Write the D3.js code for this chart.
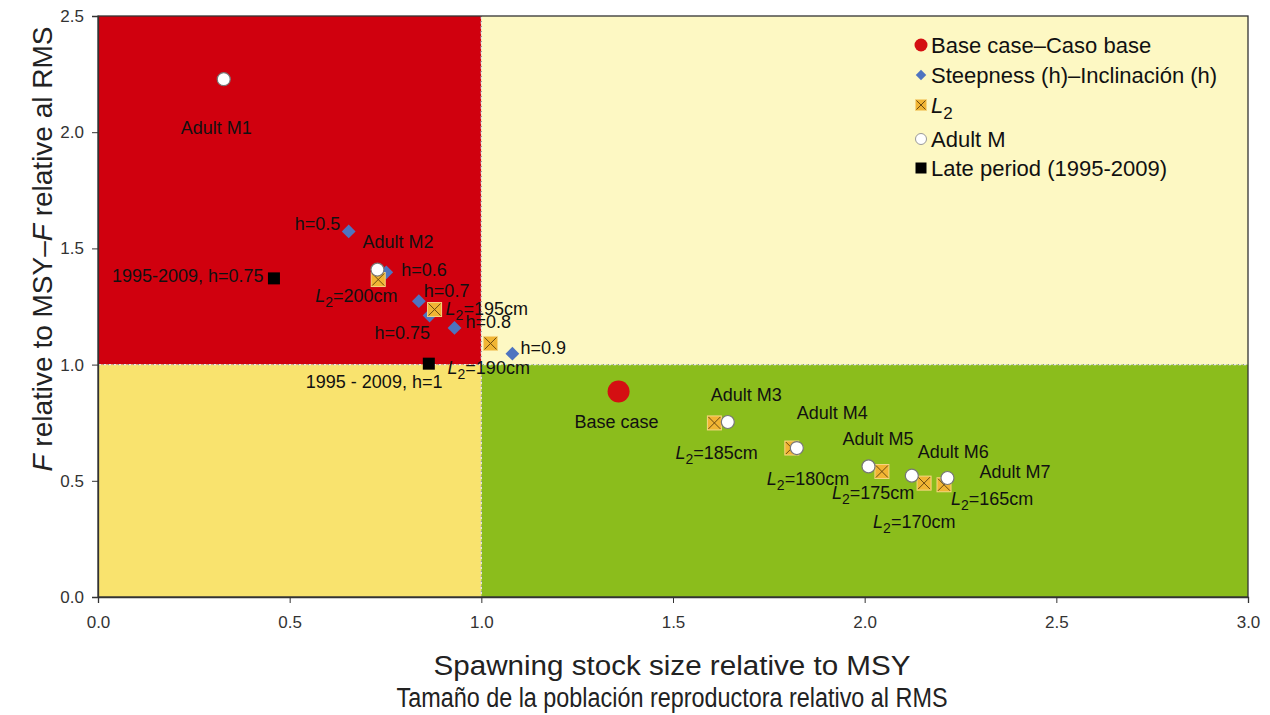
<!DOCTYPE html>
<html>
<head>
<meta charset="utf-8">
<script src="https://cdn.jsdelivr.net/npm/d3@7"></script>
<style>
  html, body { margin: 0; padding: 0; background: #fff; }
  svg { display: block; font-family: "Liberation Sans", Arial, sans-serif; }
</style>
</head>
<body>
<svg id="chart" width="1270" height="715"></svg>
<script>
// ---------------- data ----------------
const xTicks = [0, 0.5, 1.0, 1.5, 2.0, 2.5, 3.0];
const yTicks = [0, 0.5, 1.0, 1.5, 2.0, 2.5];

const baseCase = [{ x: 1.358, y: 0.884, label: "Base case" }];

const steepness = [
  { x: 0.654, y: 1.573, label: "h=0.5" },
  { x: 0.752, y: 1.397, label: "h=0.6" },
  { x: 0.837, y: 1.273, label: "h=0.7" },
  { x: 0.865, y: 1.211, label: "h=0.75" },
  { x: 0.930, y: 1.158, label: "h=0.8" },
  { x: 1.081, y: 1.047, label: "h=0.9" }
];

const l2 = [
  { x: 0.731, y: 1.366, label: "200cm" },
  { x: 0.878, y: 1.237, label: "195cm" },
  { x: 1.024, y: 1.091, label: "190cm" },
  { x: 1.608, y: 0.749, label: "185cm" },
  { x: 1.810, y: 0.641, label: "180cm" },
  { x: 2.045, y: 0.540, label: "175cm" },
  { x: 2.155, y: 0.490, label: "170cm" },
  { x: 2.207, y: 0.483, label: "165cm" }
];

const adultM = [
  { x: 0.328, y: 2.228, label: "Adult M1" },
  { x: 0.729, y: 1.409, label: "Adult M2" },
  { x: 1.643, y: 0.753, label: "Adult M3" },
  { x: 1.823, y: 0.641, label: "Adult M4" },
  { x: 2.010, y: 0.562, label: "Adult M5" },
  { x: 2.123, y: 0.522, label: "Adult M6" },
  { x: 2.216, y: 0.512, label: "Adult M7" }
];

const latePeriod = [
  { x: 0.459, y: 1.371, label: "1995-2009, h=0.75" },
  { x: 0.863, y: 1.004, label: "1995 - 2009, h=1" }
];

const legendLabels = ["Base case\u2013Caso base", "Steepness (h)\u2013Inclinación (h)", "L2", "Adult M", "Late period (1995-2009)"];

// label offsets in pixels (left edge, vertical centre) relative to the point
const steepOff = [[-54, -7], [15, -2], [5, -10], [-55, 17], [11, -6], [8, -6]];
const l2Off = [[-63, 16], [11, -1], [-43, 25], [-39, 30], [-25, 31], [-50, 21], [-51, 39], [7, 14]];
const adultOff = [[-43, 49], [-15, -28], [-17, -27], [0, -35], [-26, -27], [6, -24], [32, -6]];
const lateOff = [[-162, -2], [-123, 18]];
const baseOff = [[-44, 30]];

// ---------------- layout ----------------
const svg = d3.select("#chart");
const m = { left: 98, top: 16, right: 1248, bottom: 597 };
const x = d3.scaleLinear().domain([0, 3]).range([m.left, m.right]);
const y = d3.scaleLinear().domain([0, 2.5]).range([m.bottom, m.top]);

const colors = {
  red: "#d0000e", lightYellow: "#fdf8c3", yellow: "#f9e36e", green: "#8bbd1c",
  diamond: "#4e74c0", l2: "#f1b534", black: "#000"
};

// quadrants
const quads = [
  { x0: 0, x1: 1, y0: 1, y1: 2.5, c: colors.red },
  { x0: 1, x1: 3, y0: 1, y1: 2.5, c: colors.lightYellow },
  { x0: 0, x1: 1, y0: 0, y1: 1, c: colors.yellow },
  { x0: 1, x1: 3, y0: 0, y1: 1, c: colors.green }
];
svg.append("g").selectAll("rect").data(quads).join("rect")
  .attr("x", d => x(d.x0)).attr("y", d => y(d.y1))
  .attr("width", d => x(d.x1) - x(d.x0)).attr("height", d => y(d.y0) - y(d.y1))
  .attr("fill", d => d.c);

// dashed reference lines
[[x(1), x(1), y(2.5), y(0)], [x(0), x(3), y(1), y(1)]].forEach(c => {
  svg.append("line").attr("x1", c[0]).attr("x2", c[1]).attr("y1", c[2]).attr("y2", c[3])
    .attr("stroke", "#e8e8e8").attr("stroke-width", 1.2).attr("stroke-dasharray", "3,2");
  svg.append("line").attr("x1", c[0]).attr("x2", c[1]).attr("y1", c[2]).attr("y2", c[3])
    .attr("stroke", "#888").attr("stroke-width", 1).attr("stroke-dasharray", "1,4");
});

// frame
svg.append("rect").attr("x", m.left).attr("y", m.top)
  .attr("width", m.right - m.left).attr("height", m.bottom - m.top)
  .attr("fill", "none").attr("stroke", "#333").attr("stroke-width", 1.3);

// axes
const xAxis = svg.append("g").attr("transform", `translate(0,${m.bottom})`)
  .call(d3.axisBottom(x).tickValues(xTicks).tickFormat(d3.format(".1f")).tickSize(6).tickPadding(13));
const yAxis = svg.append("g").attr("transform", `translate(${m.left},0)`)
  .call(d3.axisLeft(y).tickValues(yTicks).tickFormat(d3.format(".1f")).tickSize(6).tickPadding(8));
[xAxis, yAxis].forEach(a => {
  a.select(".domain").attr("stroke", "#333").attr("stroke-width", 1.3);
  a.selectAll(".tick line").attr("stroke", "#333");
  a.selectAll(".tick text").attr("fill", "#333").style("font-size", "17px")
    .style("font-family", "'Liberation Sans', Arial, sans-serif");
});

// ---------------- markers ----------------
const g = svg.append("g");
g.selectAll(".dia").data(steepness).join("path").attr("class", "dia")
  .attr("d", d3.symbol(d3.symbolSquare, 95)())
  .attr("transform", d => `translate(${x(d.x)},${y(d.y)}) rotate(45)`)
  .attr("fill", colors.diamond);

function l2Marker(sel, s) {
  sel.append("rect").attr("x", -s).attr("y", -s).attr("width", 2 * s).attr("height", 2 * s)
    .attr("fill", colors.l2).attr("stroke", "#f6d680").attr("stroke-width", 1);
  sel.append("path").attr("d", `M${-s + 1},${-s + 1}L${s - 1},${s - 1}M${s - 1},${-s + 1}L${-s + 1},${s - 1}`)
    .attr("stroke", "#6b4a10").attr("stroke-width", 1);
}
g.selectAll(".l2").data(l2).join("g").attr("class", "l2")
  .attr("transform", d => `translate(${x(d.x)},${y(d.y)})`)
  .each(function () { l2Marker(d3.select(this), 7); });

g.selectAll(".adm").data(adultM).join("circle").attr("class", "adm")
  .attr("cx", d => x(d.x)).attr("cy", d => y(d.y)).attr("r", 6.5)
  .attr("fill", "#fff").attr("stroke", "#777").attr("stroke-width", 1.2);

g.selectAll(".late").data(latePeriod).join("rect").attr("class", "late")
  .attr("x", d => x(d.x) - 6).attr("y", d => y(d.y) - 6).attr("width", 12).attr("height", 12)
  .attr("fill", colors.black);

g.selectAll(".base").data(baseCase).join("circle").attr("class", "base")
  .attr("cx", d => x(d.x)).attr("cy", d => y(d.y)).attr("r", 11)
  .attr("fill", "#d40f12");

// ---------------- labels ----------------
const lab = svg.append("g").style("font-size", "18px").attr("fill", "#111");
function plainLabels(data, off) {
  data.forEach((d, i) => {
    lab.append("text").attr("x", x(d.x) + off[i][0]).attr("y", y(d.y) + off[i][1] + 6)
      .text(d.label);
  });
}
plainLabels(steepness, steepOff);
plainLabels(adultM, adultOff);
plainLabels(latePeriod, lateOff);
plainLabels(baseCase, baseOff);
l2.forEach((d, i) => {
  const t = lab.append("text").attr("x", x(d.x) + l2Off[i][0]).attr("y", y(d.y) + l2Off[i][1] + 6);
  t.append("tspan").attr("font-style", "italic").text("L");
  t.append("tspan").attr("dy", 5).style("font-size", "14px").text("2");
  t.append("tspan").attr("dy", -5).text("=" + d.label);
});

// ---------------- legend ----------------
const leg = svg.append("g").attr("transform", "translate(921,0)").style("font-size", "22px").attr("fill", "#111");
const rowY = [45, 75, 105, 139, 168];
leg.append("circle").attr("cx", 0).attr("cy", rowY[0]).attr("r", 6.5).attr("fill", "#d40f12");
leg.append("path").attr("d", d3.symbol(d3.symbolSquare, 55)()).attr("transform", `translate(0,${rowY[1]}) rotate(45)`).attr("fill", colors.diamond);
const lg = leg.append("g").attr("transform", `translate(0,${rowY[2]})`);
l2Marker(lg, 5.5);
leg.append("circle").attr("cx", 0).attr("cy", rowY[3]).attr("r", 5.5).attr("fill", "#fff").attr("stroke", "#999");
leg.append("rect").attr("x", -5.5).attr("y", rowY[4] - 5.5).attr("width", 11).attr("height", 11).attr("fill", "#000");
legendLabels.forEach((t, i) => {
  const tx = leg.append("text").attr("x", 10).attr("y", rowY[i] + 8);
  if (t === "L2") {
    tx.append("tspan").attr("font-style", "italic").text("L");
    tx.append("tspan").attr("dy", 6).style("font-size", "17px").text("2");
  } else tx.text(t);
});

// ---------------- axis titles ----------------
const tg = svg.append("g").attr("fill", "#222").style("font-size", "27px");
tg.append("text").attr("x", 672).attr("y", 675).attr("text-anchor", "middle")
  .attr("textLength", 477).attr("lengthAdjust", "spacingAndGlyphs")
  .text("Spawning stock size relative to MSY");
tg.append("text").attr("x", 672).attr("y", 707).attr("text-anchor", "middle")
  .attr("textLength", 551).attr("lengthAdjust", "spacingAndGlyphs")
  .text("Tamaño de la población reproductora relativo al RMS");
const yt = tg.append("text").attr("transform", "translate(52,249) rotate(-90)").attr("text-anchor", "middle")
  .style("font-size", "28px");
yt.append("tspan").attr("font-style", "italic").text("F");
yt.append("tspan").text(" relative to MSY\u2013");
yt.append("tspan").attr("font-style", "italic").text("F");
yt.append("tspan").text(" relative al RMS");
</script>
</body>
</html>
